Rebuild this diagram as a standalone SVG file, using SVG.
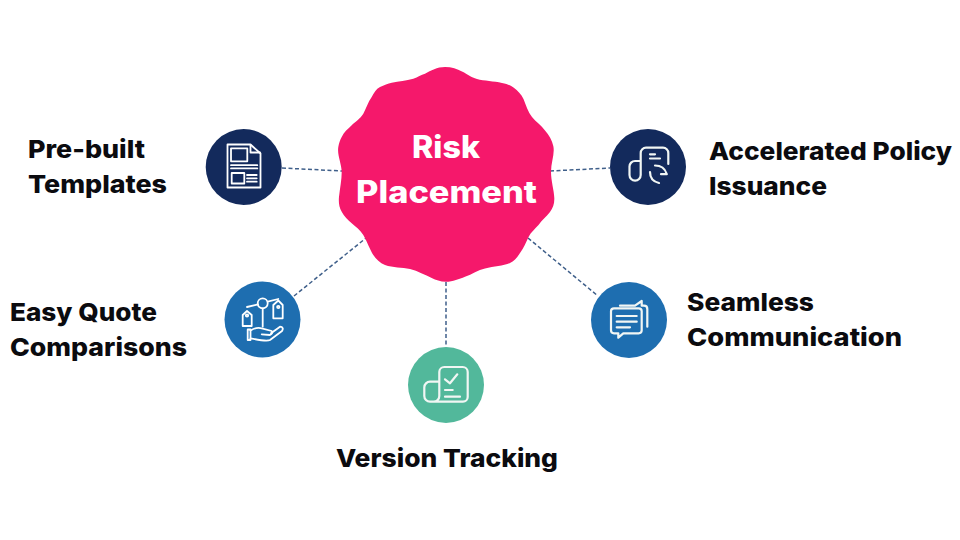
<svg xmlns="http://www.w3.org/2000/svg" width="960" height="540" viewBox="0 0 960 540">
<style>
text{font-family:"Inter","Liberation Sans",sans-serif;font-weight:800;font-size:25px;fill:#0b0b0f}
.c{font-size:31px;fill:#fff}
.i{fill:none;stroke:#fff;stroke-width:1.8;stroke-linecap:round;stroke-linejoin:round}
.i2{fill:none;stroke:#f1f6f4;stroke-width:2.2;stroke-linecap:round;stroke-linejoin:round}
#connectors line{stroke:#3f5f8a;stroke-width:1.5;stroke-dasharray:4 2.5}
</style>
<rect width="960" height="540" fill="#fff"/>
<g id="connectors">
<line x1="282" y1="168" x2="342" y2="171"/>
<line x1="550" y1="171" x2="610" y2="168"/>
<line x1="294" y1="296" x2="366" y2="238"/>
<line x1="528" y1="238" x2="598" y2="296"/>
<line x1="446" y1="282" x2="446" y2="347"/>
</g>
<g id="center">
<path fill="#f5186b" d="M445 67C452 67 457 69 462 71.500C468 74.500 471 77.500 477 79C484 81 494 81 502 83C507 84 510 85 513.500 87.500C518 91 521 94 523.500 99C526 105 528 112 532 117C536 122 541 125 545 130.500C549 135 552 140 553.300 146C555 154 551 162 551 172C551 181 554 190 554.300 198C554.500 204 553 208 550 212C546 217 542 220 538.500 225C535 229 531 232 528.500 237C526 242 524 248 520 253C517 258 514 261 510 263C503 266 494 266 485 268.500C478 270 472 274.500 465 276.700C459 279 453 281.700 446 281.700C440 281.700 436 280 431.700 278C425 275 418 271 410 269C402 267 393 268 385 265C380 263 376 259 373.300 255C370 250 367 241 363.300 235C360 230 356 227 351.700 223.300C348 220 344 216 341.700 211.700C339 207 338.500 202 339 196.700C340 188 341.700 180 341.700 172C341.700 164 337 155 338.300 147C339 143 340 140 341.700 137C344 132 348 129 351.700 125.300C356 121 360 119 363.300 113.700C366 109 368 102 371.700 97C374 93 376 89 380 87C384 85 388 83.500 391.700 82.700C399 81 406 81 413.300 78.700C418 77 421 75 425 73.700C431 70.500 437 67 445 67Z"/>
<text class="c" x="412" y="158" textLength="68" lengthAdjust="spacingAndGlyphs">Risk</text>
<text class="c" x="356" y="203" textLength="181" lengthAdjust="spacingAndGlyphs">Placement</text>
</g>
<g id="node-templates">
<circle cx="243.700" cy="167" r="38" fill="#132a5c"/>
<g class="i">
<path d="M227.500 144.500H250.500L260.500 153.500V187.500H227.500Z"/>
<path d="M250.500 145V152.500H260"/>
<rect x="231" y="148.300" width="16.300" height="13"/>
<path d="M231 165.200H257.300M231 168.400H257.300"/>
<rect x="231.700" y="173" width="12.600" height="10.500"/>
<path d="M247 175H256.700M247 178.300H256.700M247 181.700H256.700"/>
</g>
<text x="28" y="158" textLength="117" lengthAdjust="spacingAndGlyphs">Pre-built</text>
<text x="28" y="193" textLength="139" lengthAdjust="spacingAndGlyphs">Templates</text>
</g>
<g id="node-policy">
<circle cx="648" cy="167" r="38" fill="#132a5c"/>
<g class="i2">
<path d="M640.700 161H635a5.500 5.500 0 0 0-5.500 5.500V175a5.600 5.600 0 0 0 11.200 0V153a5.300 5.300 0 0 1 5.300-5.300H663a5.300 5.300 0 0 1 5.300 5.300V164"/>
<path d="M650 154.300H655M650 158.500H660"/>
<path d="M655 165.500Q664 165.500 666.500 173.500M661 174.200H666.800"/>
<path d="M650 172Q650 181 659 183"/>
</g>
<text x="709" y="160" textLength="243" lengthAdjust="spacingAndGlyphs">Accelerated Policy</text>
<text x="709" y="195" textLength="118" lengthAdjust="spacingAndGlyphs">Issuance</text>
</g>
<g id="node-quotes">
<circle cx="262.500" cy="319.500" r="38" fill="#1e6eb0"/>
<g class="i">
<circle cx="262.700" cy="303.300" r="5"/>
<path d="M258 304.400L247 307M267.700 301.700L278.300 299M262.700 308.300V326.700"/>
<path d="M242.700 315L247 311L251.700 315V326H242.700Z"/>
<path d="M273.300 305L278.300 300.500L282.700 305V318.300H273.300Z"/>
<circle cx="247" cy="315.500" r="1.200"/>
<circle cx="278.300" cy="307" r="1.200"/>
<path d="M247.700 329.500H250.500V340H247.700Z"/>
<path d="M250.500 330.500Q256.700 326.700 261.700 328.300L271.700 331Q273.300 333.300 270 335L261.700 334.300"/>
<path d="M271 333.300L280 326.700Q284.300 327.200 282 331L270 340Q266.700 341.700 250.500 338.300"/>
</g>
<text x="10" y="321" textLength="147" lengthAdjust="spacingAndGlyphs">Easy Quote</text>
<text x="10" y="356" textLength="177" lengthAdjust="spacingAndGlyphs">Comparisons</text>
</g>
<g id="node-communication">
<circle cx="629" cy="320" r="38" fill="#1e6eb0"/>
<g class="i2">
<path d="M614 308.300H638.700a3 3 0 0 1 3 3V330.300a3 3 0 0 1-3 3H623.300L618.300 337.700V333.300H614a3 3 0 0 1-3-3V311.300a3 3 0 0 1 3-3Z"/>
<path d="M616.700 316H636.700M616.700 321.700H636.700M616.700 327.300H630"/>
<path d="M620 305.700H635L641.700 301V305.700H644Q647.300 305.700 647.300 309V326.700"/>
</g>
<text x="687" y="311" textLength="127" lengthAdjust="spacingAndGlyphs">Seamless</text>
<text x="687" y="346" textLength="215" lengthAdjust="spacingAndGlyphs">Communication</text>
</g>
<g id="node-version">
<circle cx="446" cy="385" r="38" fill="#52b89b"/>
<g class="i2">
<path d="M439 381.700H430a5.700 5.700 0 0 0-5.700 5.700V396a5.700 5.700 0 0 0 5.700 5.700H463a4.700 4.700 0 0 0 4.700-4.700V372a5 5 0 0 0-5-5H444.300a5 5 0 0 0-5 5V396a5.700 5.700 0 0 1-5.700 5.700"/>
<path d="M445 379.300L450 383.300L457.300 374.300"/>
<path d="M445 390H452.700M445 396.700H460"/>
</g>
<text x="336" y="467" textLength="222" lengthAdjust="spacingAndGlyphs">Version Tracking</text>
</g>
</svg>
